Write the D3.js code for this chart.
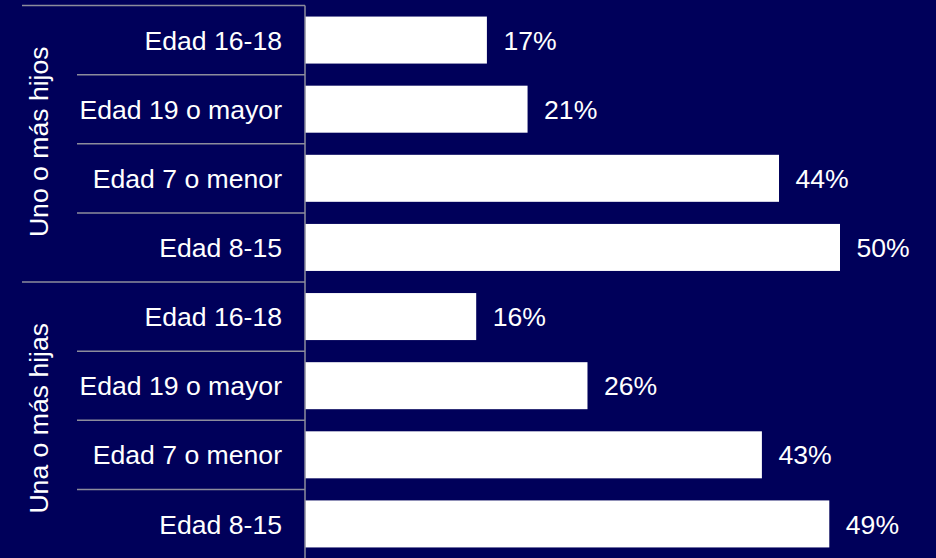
<!DOCTYPE html>
<html>
<head>
<meta charset="utf-8">
<script src="https://cdn.jsdelivr.net/npm/d3@7"></script>
<style>
  html, body { margin: 0; padding: 0; background: #00005a; }
  svg { display: block; }
  text { font-family: "Liberation Sans", Arial, sans-serif; fill: #ffffff; }
</style>
</head>
<body>
<svg width="936" height="558"></svg>
<script>
// chart data (bar lengths, labels round them)
var groups = ["Uno o más hijos", "Una o más hijas"];
var ages = ["Edad 16-18", "Edad 19 o mayor", "Edad 7 o menor", "Edad 8-15"];
var hijosValues = [0.170, 0.208, 0.443, 0.500];
var hijasValues = [0.160, 0.264, 0.427, 0.490];

var rows = [];
ages.forEach(function(a, i) { rows.push({ group: groups[0], age: a, value: hijosValues[i] }); });
ages.forEach(function(a, i) { rows.push({ group: groups[1], age: a, value: hijasValues[i] }); });
rows.forEach(function(d, i) { d.key = i; });

var svg = d3.select("svg");
var width = +svg.attr("width"), height = +svg.attr("height");

var x0 = 305, plotTop = 5.5, plotBottom = 558.5;
var lineCol = "#8c8c9c";
var fontSize = "26.6px";

var y = d3.scaleBand()
  .domain(rows.map(function(d) { return d.key; }))
  .range([plotTop, plotBottom])
  .paddingInner(0.32)
  .paddingOuter(0.16);

var x = d3.scaleLinear().domain([0, 0.5]).range([x0, 840]);

var fmt = d3.format(".0%");
var step = y.step();
var bandTop = function(i) { return plotTop + i * step; };

// separators between categories
var g = svg.append("g");
rows.forEach(function(d, i) {
  var isGroupStart = i % ages.length == 0;
  g.append("line")
    .attr("x1", isGroupStart ? 22 : 77).attr("x2", x0)
    .attr("y1", bandTop(i)).attr("y2", bandTop(i))
    .attr("stroke", lineCol).attr("stroke-width", 1.5);
});

// bars
g.selectAll(".bar")
  .data(rows)
  .enter().append("rect")
  .attr("class", "bar")
  .attr("x", x(0))
  .attr("y", function(d) { return y(d.key); })
  .attr("width", function(d) { return x(d.value) - x(0); })
  .attr("height", y.bandwidth())
  .attr("fill", "#ffffff");

// value labels
g.selectAll(".val")
  .data(rows)
  .enter().append("text")
  .attr("class", "val")
  .attr("x", function(d) { return x(d.value) + 16.5; })
  .attr("y", function(d) { return y(d.key) + y.bandwidth() / 2; })
  .attr("dy", "0.36em")
  .style("font-size", fontSize)
  .text(function(d) { return fmt(d.value); });

// category labels
g.selectAll(".cat")
  .data(rows)
  .enter().append("text")
  .attr("class", "cat")
  .attr("x", 282)
  .attr("y", function(d) { return y(d.key) + y.bandwidth() / 2; })
  .attr("dy", "0.36em")
  .attr("text-anchor", "end")
  .style("font-size", fontSize)
  .text(function(d) { return d.age; });

// group labels, rotated
groups.forEach(function(name, gi) {
  var yc = (bandTop(gi * ages.length) + bandTop((gi + 1) * ages.length)) / 2 - 2;
  g.append("text")
    .attr("transform", "translate(48," + yc + ") rotate(-90)")
    .attr("text-anchor", "middle")
    .style("font-size", fontSize)
    .text(name);
});

// vertical axis line
g.append("line")
  .attr("x1", x0).attr("x2", x0)
  .attr("y1", plotTop).attr("y2", height)
  .attr("stroke", lineCol).attr("stroke-width", 1.5);
</script>
</body>
</html>
